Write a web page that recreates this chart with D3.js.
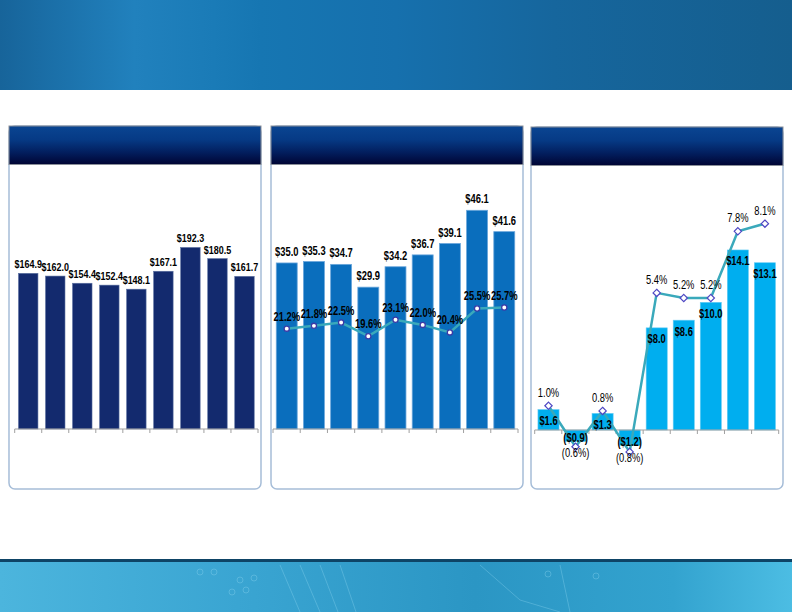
<!DOCTYPE html>
<html>
<head>
<meta charset="utf-8">
<script src="https://cdn.jsdelivr.net/npm/d3@7"></script>
<style>
html,body{margin:0;padding:0;background:#fff;}
svg{display:block;}
</style>
</head>
<body>
<svg id="chart" width="792" height="612"></svg>
<script>
// ---- data ----
const categories = ["P1","P2","P3","P4","P5","P6","P7","P8","P9"];
const revenue = [164.9,162.0,154.4,152.4,148.1,167.1,192.3,180.5,161.7];
const grossProfit = [35.0,35.3,34.7,29.9,34.2,36.7,39.1,46.1,41.6];
const grossMargin = [21.2,21.8,22.5,19.6,23.1,22.0,20.4,25.5,25.7];
const opIncome = [1.6,-0.9,1.3,-1.2,8.0,8.6,10.0,14.1,13.1];
const opMargin = [1.0,-0.6,0.8,-0.8,5.4,5.2,5.2,7.8,8.1];

const svg = d3.select("#chart");
const defs = svg.append("defs");
const FONT = "'Liberation Sans Narrow','Arial Narrow','Liberation Sans',Arial,sans-serif";
const SX = 0.78; // horizontal condensing to imitate a narrow face

// top banner gradient
const g1 = defs.append("linearGradient").attr("id","topband").attr("x1","0").attr("x2","1").attr("y1","0").attr("y2","0");
[[0,"#17649a"],[0.07,"#1b70a9"],[0.17,"#2181bd"],[0.27,"#1a7bb7"],[0.33,"#1676b2"],[0.5,"#1670ad"],[0.7,"#16669d"],[1,"#155e8e"]]
  .forEach(s=>g1.append("stop").attr("offset",s[0]).attr("stop-color",s[1]));
svg.append("rect").attr("x",0).attr("y",0).attr("width",792).attr("height",90).attr("fill","url(#topband)");

// bottom band
const g2 = defs.append("linearGradient").attr("id","botband").attr("x1","0").attr("x2","1").attr("y1","0").attr("y2","0");
[[0,"#4cb5dd"],[0.3,"#3aa5d2"],[0.6,"#2b96c4"],[0.85,"#33a3cf"],[1,"#4cbde3"]]
  .forEach(s=>g2.append("stop").attr("offset",s[0]).attr("stop-color",s[1]));
svg.append("rect").attr("x",0).attr("y",560).attr("width",792).attr("height",52).attr("fill","url(#botband)");
svg.append("rect").attr("x",0).attr("y",559).attr("width",792).attr("height",3).attr("fill","#0e4466");
// subtle circuit decoration
const deco = svg.append("g").attr("stroke","#8fd6f0").attr("stroke-opacity",0.35).attr("fill","none").attr("stroke-width",1);
[[280,565,300,612],[300,565,320,612],[320,565,338,612],[340,565,356,612],[480,565,520,600],[520,600,560,612],[560,565,570,612]]
  .forEach(l=>deco.append("line").attr("x1",l[0]).attr("y1",l[1]).attr("x2",l[2]).attr("y2",l[3]));
[[200,572],[214,572],[240,580],[254,578],[232,592],[246,590],[548,574],[596,576]]
  .forEach(c=>deco.append("circle").attr("cx",c[0]).attr("cy",c[1]).attr("r",3));

// panel header gradient
const g3 = defs.append("linearGradient").attr("id","phead").attr("x1","0").attr("x2","0").attr("y1","0").attr("y2","1");
[[0,"#0a4592"],[0.35,"#063a85"],[0.7,"#021d5c"],[1,"#000433"]]
  .forEach(s=>g3.append("stop").attr("offset",s[0]).attr("stop-color",s[1]));

const panels = [
  {x:9, w:252, top:126, bottom:489},
  {x:271, w:252, top:126, bottom:489},
  {x:531, w:252, top:127, bottom:489}
];
panels.forEach(p=>{
  svg.append("rect").attr("x",p.x).attr("y",p.top).attr("width",p.w).attr("height",p.bottom-p.top)
    .attr("rx",6).attr("ry",6).attr("fill","#fff").attr("stroke","#a6bdd8").attr("stroke-width",1.5);
  svg.append("rect").attr("x",p.x).attr("y",p.top).attr("width",p.w).attr("height",38.5)
    .attr("fill","url(#phead)").attr("stroke","#8a8f99").attr("stroke-width",1);
});

function axis(x0,x1,y){
  const xs = d3.scaleBand().domain(categories).range([x0,x1]);
  const g = svg.append("g");
  g.append("line").attr("x1",x0).attr("x2",x1).attr("y1",y).attr("y2",y).attr("stroke","#a0a0a0").attr("stroke-width",1.2);
  const edges = categories.map(c=>xs(c)).concat([x1]);
  g.selectAll(".tk").data(edges).join("line").attr("x1",d=>d).attr("x2",d=>d).attr("y1",y).attr("y2",y+4)
    .attr("stroke","#a0a0a0").attr("stroke-width",1);
}

function labels(data, fx, fy, fmt, size, weight){
  svg.append("g").selectAll("text").data(data).join("text")
    .attr("transform",(d,i)=>`translate(${fx(d,i)},${fy(d,i)}) scale(${SX},1)`)
    .attr("text-anchor","middle").attr("font-family",FONT).attr("font-weight",weight).attr("font-size",size)
    .attr("fill","#000").text(fmt);
}

// ---- chart 1: revenue ----
{
  const x = d3.scaleBand().domain(categories).range([14.7,258]).paddingInner(0.28).paddingOuter(0.14);
  const y = d3.scaleLinear().domain([0,200]).range([429,240.2]);
  const fmt = d3.format("$.1f");
  svg.append("g").selectAll("rect").data(revenue).join("rect")
    .attr("x",(d,i)=>x(categories[i])).attr("width",x.bandwidth())
    .attr("y",d=>y(d)).attr("height",d=>y(0)-y(d))
    .attr("fill","#132a6e").attr("stroke","#5a6fa0").attr("stroke-width",0.6);
  axis(14.7,258,429);
  labels(revenue,(d,i)=>x(categories[i])+x.bandwidth()/2,d=>y(d)-5,d=>fmt(d),11.5,"bold");
}

// ---- chart 2: gross profit + margin ----
{
  const x = d3.scaleBand().domain(categories).range([273,518]).paddingInner(0.23).paddingOuter(0.12);
  const y = d3.scaleLinear().domain([0,50]).range([429,191.8]);
  const yp = d3.scaleLinear().domain([0,50]).range([428.3,193.3]);
  const fmt = d3.format("$.1f");
  const cx = i=>x(categories[i])+x.bandwidth()/2;
  svg.append("g").selectAll("rect").data(grossProfit).join("rect")
    .attr("x",(d,i)=>x(categories[i])).attr("width",x.bandwidth())
    .attr("y",d=>y(d)).attr("height",d=>y(0)-y(d))
    .attr("fill","#0a6ebd").attr("stroke","#6aa6db").attr("stroke-width",0.8);
  axis(273,518,429);
  labels(grossProfit,(d,i)=>cx(i),d=>y(d)-7,d=>fmt(d),12,"bold");
  const line = d3.line().x((d,i)=>cx(i)).y(d=>yp(d));
  svg.append("path").datum(grossMargin).attr("d",line).attr("fill","none").attr("stroke","#3aa9bb").attr("stroke-width",2.5);
  svg.append("g").selectAll("circle").data(grossMargin).join("circle")
    .attr("cx",(d,i)=>cx(i)).attr("cy",d=>yp(d)).attr("r",2.6)
    .attr("fill","#fff").attr("stroke","#3b3aa6").attr("stroke-width",1.3);
  labels(grossMargin,(d,i)=>cx(i),d=>yp(d)-8,d=>d.toFixed(1)+"%",12,"bold");
}

// ---- chart 3: operating income + margin ----
{
  const x = d3.scaleBand().domain(categories).range([534.7,778.7]).paddingInner(0.22).paddingOuter(0.12);
  const y = d3.scaleLinear().domain([0,16]).range([430,225.7]);
  const yp = d3.scaleLinear().domain([0,8]).range([431.4,226.2]);
  const fmt = d3.format("($.1f");
  const cx = i=>x(categories[i])+x.bandwidth()/2;
  svg.append("g").selectAll("rect").data(opIncome).join("rect")
    .attr("x",(d,i)=>x(categories[i])).attr("width",x.bandwidth())
    .attr("y",d=>Math.min(y(d),y(0))).attr("height",d=>Math.abs(y(0)-y(d)))
    .attr("fill","#00aeef").attr("stroke","#66ccf4").attr("stroke-width",0.6);
  axis(534.7,778.7,430);
  const line = d3.line().x((d,i)=>cx(i)).y(d=>yp(d));
  svg.append("path").datum(opMargin).attr("d",line).attr("fill","none").attr("stroke","#3aa9bb").attr("stroke-width",2.5);
  svg.append("g").selectAll("path").data(opMargin).join("path")
    .attr("transform",(d,i)=>`translate(${cx(i)},${yp(d)})`)
    .attr("d",d3.symbol(d3.symbolDiamond2 ? d3.symbolDiamond2 : d3.symbolDiamond,34))
    .attr("fill","#fff").attr("stroke","#4f48c4").attr("stroke-width",1.2);
  labels(opIncome,(d,i)=>cx(i),d=> d>=0 ? y(d)+15.5 : y(d)+0.5,d=>fmt(d),12,"bold");
  labels(opMargin,(d,i)=>cx(i),d=> d>=0 ? yp(d)-9 : yp(d)+10,
    d=> d<0 ? "("+Math.abs(d).toFixed(1)+"%)" : d.toFixed(1)+"%",12,"normal");
}
</script>
</body>
</html>
